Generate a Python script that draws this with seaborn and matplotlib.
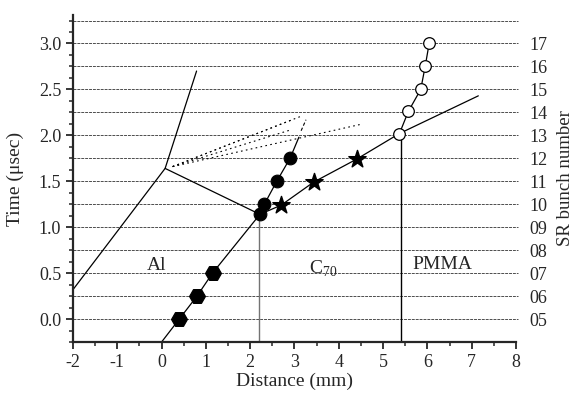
import matplotlib
matplotlib.use("Agg")
import matplotlib.pyplot as plt
from matplotlib.ticker import MultipleLocator
import seaborn as sns

# SR bunch timing (right axis) and the dashed grid lines
bunch_t = [0.0, 0.25, 0.5, 0.75, 1.0, 1.25, 1.5, 1.75, 2.0, 2.25, 2.5, 2.75, 3.0]
bunch_lbl = ["05", "06", "07", "08", "09", "10", "11", "12", "13", "14", "15", "16", "17"]
grid_t = bunch_t + [3.25]

# measured positions
al_x = [0.4, 0.8, 1.15]
al_t = [0.0, 0.25, 0.5]
c70_x = [2.22, 2.32, 2.6, 2.9]
c70_t = [1.14, 1.25, 1.5, 1.75]
star_x = [2.7, 3.43, 4.4]
star_t = [1.24, 1.49, 1.74]
pmma_x = [5.37, 5.57, 5.85, 5.95, 6.04]
pmma_t = [2.02, 2.26, 2.5, 2.75, 3.0]

# wave paths
front_x = [0.0, 0.4, 0.8, 1.15, 2.22, 2.32, 2.6, 2.9, 3.1]
front_t = [-0.25, 0.0, 0.25, 0.5, 1.14, 1.25, 1.5, 1.75, 1.98]
front_ext_x = [3.15, 3.26]
front_ext_t = [2.05, 2.17]
trans_x = [2.22, 2.7, 3.43, 4.4, 5.37, 7.15]
trans_t = [1.14, 1.24, 1.49, 1.74, 2.02, 2.43]
release_x = [-2.0, 0.08, 0.79]
release_t = [0.32, 1.64, 2.7]
reflect_x = [0.08, 2.22]
reflect_t = [1.64, 1.14]

# dotted fan (start is common)
fan_x0, fan_t0 = 0.25, 1.66
fan_x1 = [3.16, 2.95, 2.92, 4.5]
fan_t1 = [2.21, 2.17, 2.06, 2.12]

# interfaces
iface_x = [2.2, 5.4]
iface_top = [1.14, 2.02]
iface_col = ["0.45", "k"]

sns.set_style("ticks")
plt.rcParams["font.family"] = ["Liberation Serif", "DejaVu Serif"]
plt.rcParams["mathtext.fontset"] = "custom"
plt.rcParams["mathtext.rm"] = "Liberation Serif"

fig = plt.figure(figsize=(5.76, 3.97), dpi=100)
ax = fig.add_axes([0.1267, 0.1385, 0.7691, 0.8237])

ax.hlines(grid_t, -2, 8.05, colors="0.3", linestyles=(0, (3, 1)), lw=0.7, clip_on=False, zorder=1)
ax.vlines(iface_x, -0.25, iface_top, colors=iface_col, lw=1.0, zorder=2)

for x1, t1 in zip(fan_x1, fan_t1):
    sns.lineplot(x=[fan_x0, x1], y=[fan_t0, t1], color="k", lw=0.8, linestyle=(0, (1.5, 3)),
                 sort=False, estimator=None, ax=ax)
sns.lineplot(x=front_ext_x, y=front_ext_t, color="k", lw=0.8, linestyle=(0, (3, 2)),
             sort=False, estimator=None, ax=ax)

sns.lineplot(x=front_x, y=front_t, color="k", lw=0.9, sort=False, estimator=None, ax=ax)
sns.lineplot(x=trans_x, y=trans_t, color="k", lw=0.9, sort=False, estimator=None, ax=ax)
sns.lineplot(x=release_x, y=release_t, color="k", lw=0.9, sort=False, estimator=None, ax=ax)
sns.lineplot(x=reflect_x, y=reflect_t, color="k", lw=0.9, sort=False, estimator=None, ax=ax)
sns.lineplot(x=pmma_x, y=pmma_t, color="k", lw=0.9, sort=False, estimator=None, ax=ax)

sns.scatterplot(x=al_x, y=al_t, marker="H", s=130, color="k", edgecolor="k", ax=ax, zorder=5)
sns.scatterplot(x=c70_x, y=c70_t, marker="o", s=85, color="k", edgecolor="k", ax=ax, zorder=5)
sns.scatterplot(x=star_x, y=star_t, marker="*", s=170, color="k", edgecolor="k", ax=ax, zorder=5)
sns.scatterplot(x=pmma_x, y=pmma_t, marker="o", s=70, color="white", edgecolor="k",
                linewidth=0.9, ax=ax, zorder=5)

ax.text(-0.12, 0.53, "Al", fontsize=14, ha="center", va="baseline")
ax.text(3.64, 0.49, r"C$_{\mathregular{70}}$", fontsize=14, ha="center", va="baseline")
ax.text(6.35, 0.54, "PMMA", fontsize=14, ha="center", va="baseline")

ax.set_xlim(-2, 8)
ax.set_ylim(-0.25, 3.31)
ax.xaxis.set_major_locator(MultipleLocator(1))
ax.xaxis.set_minor_locator(MultipleLocator(0.5))
ax.yaxis.set_major_locator(MultipleLocator(0.5))
ax.yaxis.set_minor_locator(MultipleLocator(0.125))
ax.yaxis.set_major_formatter(plt.FormatStrFormatter("%.1f"))
ax.xaxis.set_major_formatter(plt.FuncFormatter(lambda v, p: "%d" % v))
ax.tick_params(which="major", direction="out", length=5, width=1.3, labelsize=13)
ax.tick_params(which="minor", direction="out", length=3, width=1.1)
sns.despine(ax=ax)
for s in ["left", "bottom"]:
    ax.spines[s].set_linewidth(1.6)

ax.set_xlabel("Distance (mm)", fontsize=14)
ax.set_ylabel("Time (\u03bcsec)", fontsize=14)
ax.xaxis.set_label_coords(0.5, -0.095)
ax.yaxis.set_label_coords(-0.11, 0.5)

ax2 = ax.twinx()
ax2.set_ylim(ax.get_ylim())
ax2.set_yticks(bunch_t)
ax2.set_yticklabels(bunch_lbl)
ax2.tick_params(axis="y", length=0, pad=10, labelsize=13)
sns.despine(ax=ax2, left=True, right=True, top=True, bottom=True)
ax2.set_ylabel("SR bunch number", fontsize=13.5)
ax2.yaxis.set_label_coords(1.093, 0.5)

fig.savefig("out.png", dpi=100)
